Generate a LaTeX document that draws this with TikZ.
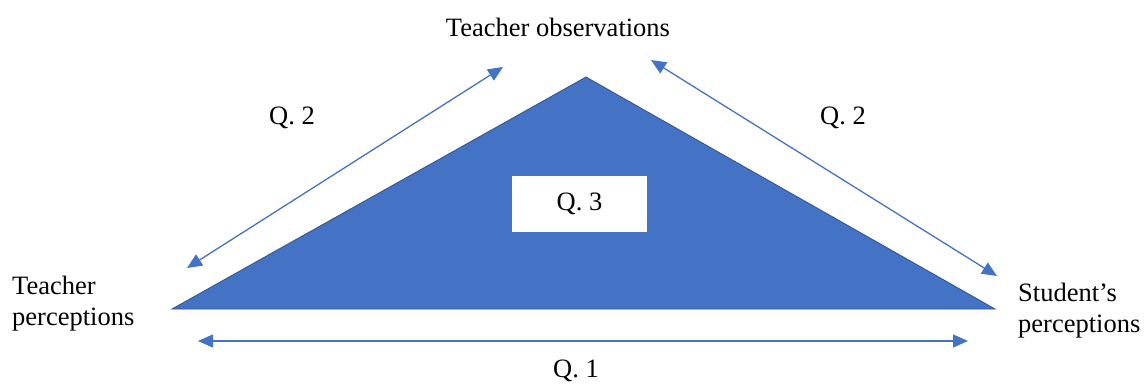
\documentclass[tikz,border=0pt]{standalone}
\usepackage{fontspec}
\setmainfont{Liberation Serif}
\usetikzlibrary{arrows.meta}
\definecolor{ublue}{HTML}{4472C4}
\definecolor{udark}{HTML}{2F528F}
\tikzset{
  lbl/.style={font=\fontsize{26.5}{31}\selectfont, inner sep=0pt},
  dbl/.style={draw=ublue, line width=1.3pt, {Triangle[length=15pt,width=13pt]}-{Triangle[length=15pt,width=13pt]}},
}
\begin{document}
\begin{tikzpicture}[x=1pt,y=-1pt]
\useasboundingbox (0,0) rectangle (1147,385);
\coordinate (apex) at (586,77);
\coordinate (bl) at (172,309);
\coordinate (br) at (995,309);
\fill[ublue, draw=udark, line width=0.8pt] (apex) -- (br) -- (bl) -- cycle;
\node[fill=white, minimum width=135pt, minimum height=56pt, inner sep=0pt, font=\fontsize{26.5}{31}\selectfont] (q3) at (579.5,204) {Q. 3};
\node[lbl] (obs) at (558,27) {Teacher observations};
\node[lbl, align=left, anchor=west] (tp) at (12,304) {Teacher\\perceptions};
\node[lbl, align=left, anchor=west] (sp) at (1018,311) {Student’s\\perceptions};
\node[lbl] (q2l) at (292,118) {Q. 2};
\node[lbl] (q2r) at (843,118) {Q. 2};
\node[lbl] (q1) at (576,371) {Q. 1};
\coordinate (l1) at (187,268);
\coordinate (l2) at (503,67);
\coordinate (r1) at (651,60);
\coordinate (r2) at (997,276);
\coordinate (b1) at (198,341);
\coordinate (b2) at (968,341);
\draw[dbl] (l1) -- (l2);
\draw[dbl] (r1) -- (r2);
\draw[dbl] (b1) -- (b2);
\end{tikzpicture}
\end{document}
